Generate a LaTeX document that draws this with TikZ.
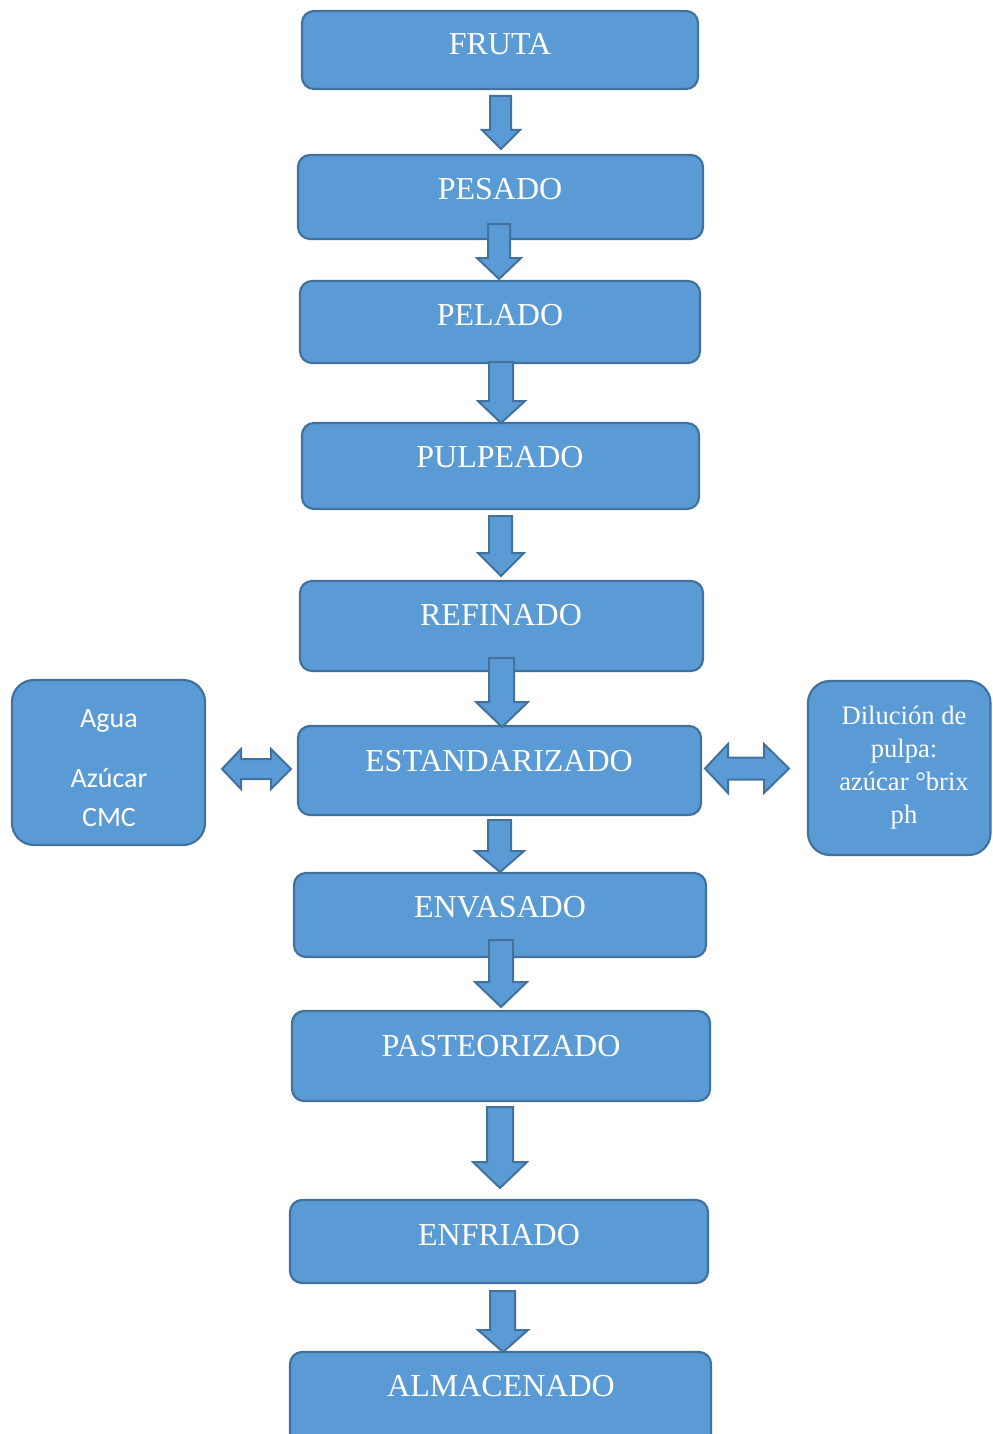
\documentclass[tikz,border=0pt]{standalone}
\usepackage{fontspec}
\setmainfont{Liberation Serif}
\newfontfamily\calibri{Carlito}
\usetikzlibrary{fit}
\definecolor{bfill}{HTML}{5B9BD5}
\definecolor{bline}{HTML}{41719C}
% down block arrow: cx, top, headstart, tip, shaft x1, shaft x2, head x1, head x2
\newcommand\dnarrow[8]{%
  \draw[blockarrow] (#5,#2) -- (#6,#2) -- (#6,#3) -- (#8,#3) -- (#1,#4) -- (#7,#3) -- (#5,#3) -- cycle;}
% horizontal double arrow: left x, right x, cy, head start left, head start right, shaft half, head half
\newcommand\lrarrow[7]{%
  \draw[blockarrow] (#1,#3) -- (#4,{#3-#7}) -- (#4,{#3-#6}) -- (#5,{#3-#6}) -- (#5,{#3-#7}) -- (#2,#3)
    -- (#5,{#3+#7}) -- (#5,{#3+#6}) -- (#4,{#3+#6}) -- (#4,{#3+#7}) -- cycle;}
\newcommand\mkbox[6]{%
  \coordinate (#1-a) at (#2,#3); \coordinate (#1-b) at (#4,#5);
  \node[box, fit=(#1-a)(#1-b)] (#1) {};}
\begin{document}
\begin{tikzpicture}[x=0.5pt,y=-0.5pt,
  box/.style={draw=bline, fill=bfill, line width=1.1pt, rounded corners=6pt, inner sep=0pt},
  sidebox/.style={box, rounded corners=11pt},
  blockarrow/.style={draw=bline, fill=bfill, line width=1pt, line join=miter},
  lbl/.style={text=white, font=\fontsize{16}{19}\selectfont, anchor=base, inner sep=0pt},
  llbl/.style={text=white, font=\calibri\fontsize{14}{17}\selectfont, anchor=base, inner sep=0pt},
  rlbl/.style={text=white, font=\fontsize{13.3}{16}\selectfont, anchor=base, inner sep=0pt}]
\useasboundingbox (0,0) rectangle (992,1434);
\clip (0,0) rectangle (992,1434);

% main boxes
\mkbox{fruta}{302}{11}{698}{89}{}
\mkbox{pesado}{298}{155}{703}{239}{}
\mkbox{pelado}{300}{281}{700}{363}{}
\mkbox{pulpeado}{302}{423}{699}{509}{}
\mkbox{refinado}{300}{581}{703}{671}{}
\mkbox{estand}{298}{726}{701}{815}{}
\mkbox{envasado}{294}{873}{706}{957}{}
\mkbox{pasteo}{292}{1011}{710}{1101}{}
\mkbox{enfriado}{290}{1200}{708}{1283}{}
\mkbox{almacen}{290}{1352}{711}{1460}{}

% side boxes
\coordinate (izq-a) at (12,680); \coordinate (izq-b) at (205,845);
\node[sidebox, fit=(izq-a)(izq-b)] (izq) {};
\coordinate (der-a) at (808,681); \coordinate (der-b) at (990.5,855);
\node[sidebox, fit=(der-a)(der-b)] (der) {};

% arrows
\dnarrow{501}{96}{130}{149}{490}{511}{482}{520}
\dnarrow{499}{224}{258}{279}{488}{510}{477}{521}
\dnarrow{501}{362}{401}{423}{489}{513}{478}{525}
\dnarrow{501}{516}{553}{576}{489}{512}{478}{524}
\dnarrow{502}{658}{702}{727}{489}{514}{476}{528}
\dnarrow{500}{820}{851}{872}{488}{511}{475}{524}
\dnarrow{501}{940}{982}{1007}{489}{513}{475}{527}
\dnarrow{500}{1107}{1162}{1188}{487}{513}{473}{527}
\dnarrow{503}{1291}{1330}{1352}{490}{515}{478}{528}

\lrarrow{222}{291}{769}{241}{271}{10}{20}
\lrarrow{705}{789}{768.5}{728}{764}{11}{24.5}

% labels
\node[lbl] at (500,55) {FRUTA};
\node[lbl] at (500,199) {PESADO};
\node[lbl] at (500,325) {PELADO};
\node[lbl] at (500,467) {PULPEADO};
\node[lbl] at (501,625) {REFINADO};
\node[lbl] at (499,771) {ESTANDARIZADO};
\node[lbl] at (500,917) {ENVASADO};
\node[lbl] at (501,1056) {PASTEORIZADO};
\node[lbl] at (499,1245) {ENFRIADO};
\node[lbl] at (501,1396) {ALMACENADO};

\node[llbl] at (109,727) {Agua};
\node[llbl] at (109,787) {Azúcar};
\node[llbl] at (109,826) {CMC};

\node[rlbl] at (904,724) {Dilución de};
\node[rlbl] at (904,757) {pulpa:};
\node[rlbl] at (904,790) {azúcar °brix};
\node[rlbl] at (904,823) {ph};
\end{tikzpicture}
\end{document}
